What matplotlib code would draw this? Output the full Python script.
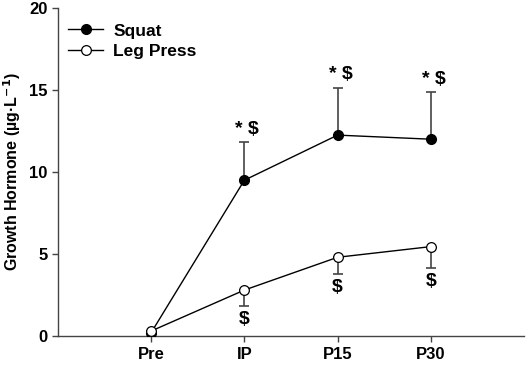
import matplotlib.pyplot as plt

plt.rcParams['font.family'] = ['Liberation Sans', 'DejaVu Sans']
plt.rcParams['font.weight'] = 'bold'

times = ["Pre", "IP", "P15", "P30"]
squat = [0.2, 9.5, 12.25, 12.0]
squat_sd = [0.0, 2.3, 2.85, 2.85]
leg = [0.3, 2.8, 4.8, 5.45]
leg_sd = [0.0, 1.0, 1.05, 1.3]
squat_marks = ["", "* $", "* $", "* $"]
leg_marks = ["", "$", "$", "$"]

x = [1, 2, 3, 4]

fig = plt.figure(figsize=(5.31, 3.65), dpi=100)
ax = fig.add_axes([0.109, 0.0795, 0.878, 0.8985])

# error bars (one-sided)
ax.errorbar(x, squat, yerr=[[0] * 4, squat_sd], fmt="none", ecolor="#444444",
            elinewidth=1.2, capsize=3.5, capthick=1.2, zorder=2)
ax.errorbar(x, leg, yerr=[leg_sd, [0] * 4], fmt="none", ecolor="#444444",
            elinewidth=1.2, capsize=3.5, capthick=1.2, zorder=2)

ax.plot(x, squat, "-o", color="black", lw=1, ms=7, mfc="black", label="Squat", zorder=3)
ax.plot(x, leg, "-o", color="black", lw=1, ms=7, mfc="white", mec="black",
        mew=0.9, label="Leg Press", zorder=4)

for xi, v, e, m in zip(x, squat, squat_sd, squat_marks):
    if m:
        ax.text(xi + 0.03, v + e + 0.3, m, ha="center", va="bottom", fontsize=14, fontweight="bold")
for xi, v, e, m in zip(x, leg, leg_sd, leg_marks):
    if m:
        ax.text(xi, v - e - 0.3, m, ha="center", va="top", fontsize=14, fontweight="bold")

ax.set_xlim(0, 5)
ax.set_ylim(0, 20)
ax.set_xticks(x)
ax.set_xticklabels(times)
ax.set_yticks([0, 5, 10, 15, 20])
ax.tick_params(labelsize=12, color="#444444", length=4, width=1)
ax.tick_params(axis="x", pad=4)
ax.set_ylabel("Growth Hormone (µg·L$^{\\mathbf{-1}}$)", fontsize=11.5, fontweight="bold")
for s in ["top", "right"]:
    ax.spines[s].set_visible(False)
for s in ["left", "bottom"]:
    ax.spines[s].set_color("#444444")
    ax.spines[s].set_linewidth(1)

leg_box = ax.legend(loc="upper left", frameon=False, fontsize=12.5, handlelength=2.0,
                    handletextpad=0.6, bbox_to_anchor=(0.0, 0.985), borderaxespad=0.2,
                    labelspacing=0.3)

fig.savefig("out.png", dpi=100)
